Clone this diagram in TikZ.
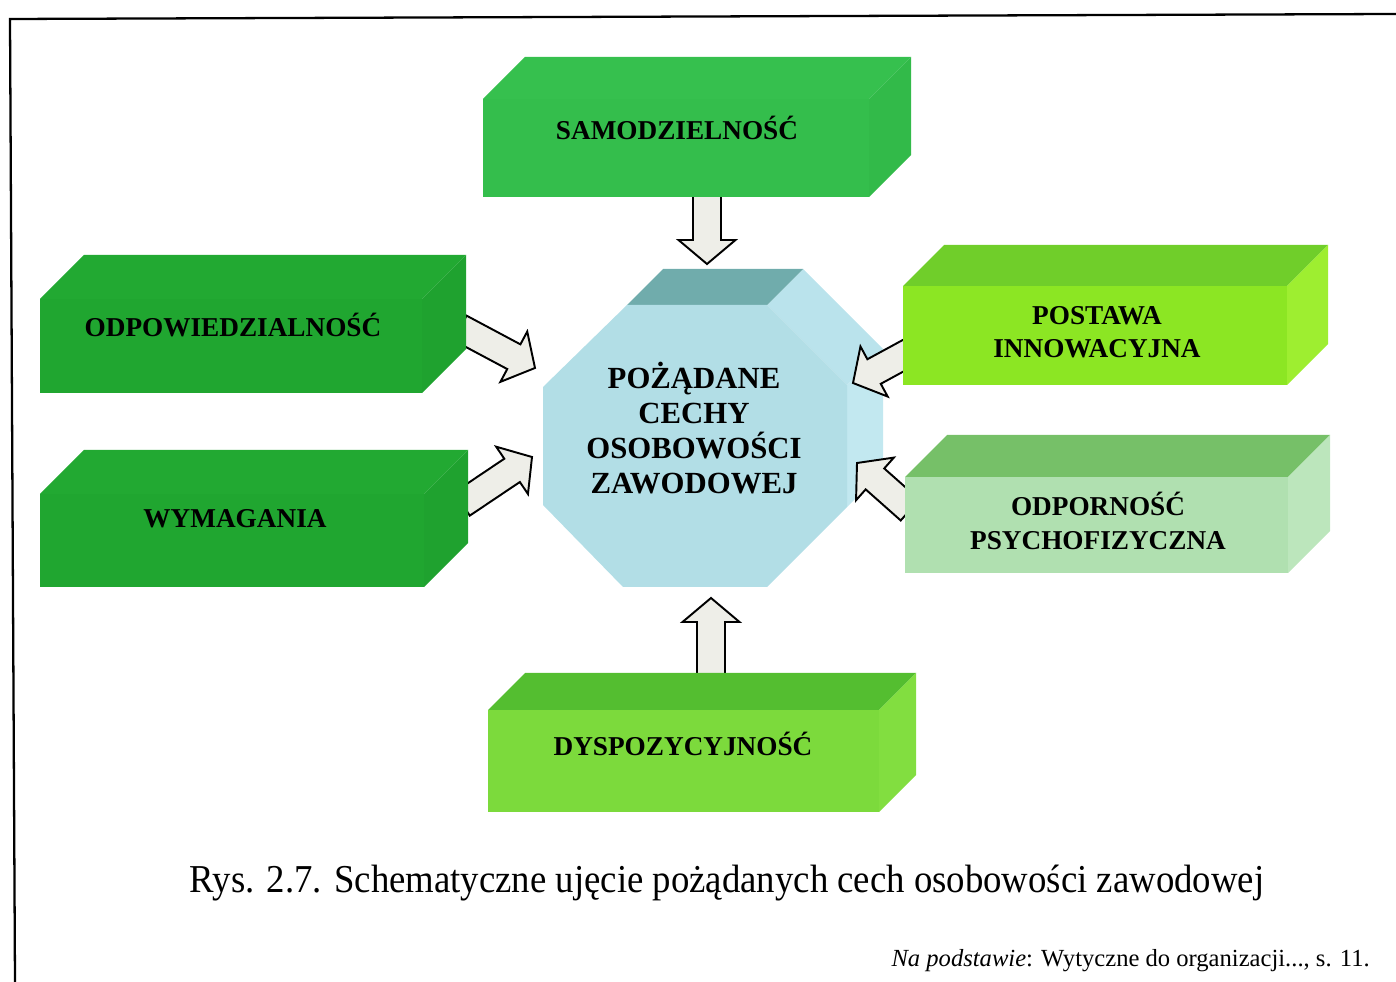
\documentclass[tikz,border=0pt]{standalone}
\usepackage{fontspec}
\setmainfont{Liberation Serif}
\usetikzlibrary{
  calc
}

\definecolor{samoP}{RGB}{52,190,76}
\definecolor{samoG}{RGB}{54,192,78}
\definecolor{samoB}{RGB}{50,186,73}
\definecolor{lewyP}{RGB}{32,166,48}
\definecolor{lewyG}{RGB}{34,169,50}
\definecolor{lewyB}{RGB}{31,162,47}
\definecolor{postP}{RGB}{140,230,35}
\definecolor{postG}{RGB}{112,206,42}
\definecolor{postB}{RGB}{158,238,48}
\definecolor{odpP}{RGB}{176,224,176}
\definecolor{odpG}{RGB}{118,192,104}
\definecolor{odpB}{RGB}{188,230,188}
\definecolor{dysP}{RGB}{124,218,60}
\definecolor{dysG}{RGB}{84,190,48}
\definecolor{dysB}{RGB}{130,222,64}
\definecolor{celP}{RGB}{178,222,230}
\definecolor{celG}{RGB}{112,172,172}
\definecolor{celB}{RGB}{194,232,240}
\definecolor{celS}{RGB}{186,227,236}
\definecolor{strzalka}{RGB}{238,238,232}

% prostopadloscian: x1 y1 x2 y2 glebokosc przod gora bok
\newcommand{\kostka}[8]{%
  \fill[#7] (#1,#2+#5) -- (#1+#5,#2) -- (#3,#2) -- (#3-#5,#2+#5) -- cycle;
  \fill[#8] (#3-#5,#2+#5) -- (#3,#2) -- (#3,#4-#5) -- (#3-#5,#4) -- cycle;
  \fill[#6] (#1,#2+#5) rectangle (#3-#5,#4);
}

\begin{document}
\begin{tikzpicture}[x=0.02cm,y=-0.02cm,
      etykieta/.style={
         font=\fontsize{15.5}{19}\selectfont\bfseries,
         align=center,
         inner sep=0pt
      },
      srodek/.style={
         font=\fontsize{17.5}{20}\selectfont\bfseries,
         align=center,
         inner sep=0pt
      },
      blok/.style={
         draw=black, line width=1.1pt, fill=strzalka, line join=miter,
         to path={
            ($(\tikztotarget)!0.48cm!(\tikztostart)$) coordinate (bh)
            ($(\tikztostart)!0.28cm!90:(\tikztotarget)$)
            -- ($(bh)!0.28cm!90:(\tikztotarget)$)
            -- ($(bh)!0.57cm!90:(\tikztotarget)$)
            -- (\tikztotarget)
            -- ($(bh)!0.57cm!-90:(\tikztotarget)$)
            -- ($(bh)!0.28cm!-90:(\tikztotarget)$)
            -- ($(\tikztostart)!0.28cm!-90:(\tikztotarget)$)
            -- cycle
         }
      }
    ]
    \useasboundingbox (0,0) rectangle (1396,982);
    \draw[line width=1.3pt] (1396,14) -- (10,19) -- (15,982);

    % bryla srodkowa
    \fill[celS] (767,305) -- (803,269) -- (883,349) -- (847,385) -- cycle;
    \fill[celB] (847,385) -- (883,349) -- (883,471) -- (847,507) -- cycle;
    \fill[celG] (627,305) -- (663,269) -- (803,269) -- (767,305) -- cycle;
    \fill[celP] (543,387) -- (627,305) -- (767,305) -- (847,385) -- (847,507)
       -- (767,587) -- (623,587) -- (543,505) -- cycle;
    \node (cel) [srodek] at (694,428) {POŻĄDANE\\CECHY\\OSOBOWOŚCI\\ZAWODOWEJ};

    \coordinate (samo-w) at (707,192);
    \coordinate (samo-k) at (707,264);
    \coordinate (dyspo-w) at (711,676);
    \coordinate (dyspo-k) at (711,598);
    \coordinate (odpow-w) at (460,328);
    \coordinate (odpow-k) at (535,368);
    \coordinate (wymag-w) at (462,504);
    \coordinate (wymag-k) at (532,457);
    \coordinate (postawa-w) at (910,352);
    \coordinate (postawa-k) at (853,383);
    \coordinate (odporn-w) at (910,510);
    \coordinate (odporn-k) at (857,463);

    \draw[blok] (samo-w) to (samo-k);
    \draw[blok] (dyspo-w) to (dyspo-k);
    \draw[blok] (odpow-w) to (odpow-k);
    \draw[blok] (wymag-w) to (wymag-k);
    \draw[blok] (postawa-w) to (postawa-k);
    \draw[blok] (odporn-w) to (odporn-k);

    \kostka{483}{57}{911}{197}{42}{samoP}{samoG}{samoB}
    \kostka{40}{255}{466}{393}{44}{lewyP}{lewyG}{lewyB}
    \kostka{40}{450}{468}{587}{44}{lewyP}{lewyG}{lewyB}
    \kostka{903}{245}{1328}{385}{41}{postP}{postG}{postB}
    \kostka{905}{435}{1330}{573}{42}{odpP}{odpG}{odpB}
    \kostka{488}{673}{916}{812}{37}{dysP}{dysG}{dysB}

    \node (samo) [etykieta] at (677,128) {SAMODZIELNOŚĆ};
    \node (odpow) [etykieta] at (233,325) {ODPOWIEDZIALNOŚĆ};
    \node (wymag) [etykieta] at (235,519) {WYMAGANIA};
    \node (postawa) [etykieta] at (1097,332) {POSTAWA\\INNOWACYJNA};
    \node (odporn) [etykieta] at (1098,521) {ODPORNOŚĆ\\PSYCHOFIZYCZNA};
    \node (dyspo) [etykieta] at (683,744) {DYSPOZYCYJNOŚĆ};

    \node (podpis) [font=\fontsize{22.5}{26}\selectfont, inner sep=0pt] at (727,883)
       {\scalebox{0.93}[1]{Rys. 2.7. Schematyczne ujęcie pożądanych cech osobowości zawodowej}};
    \node (zrodlo) [font=\fontsize{14}{16}\selectfont, anchor=base east, inner sep=0pt] at (1370,966)
       {\textit{Na podstawie}: Wytyczne do organizacji..., s. 11.};
\end{tikzpicture}
\end{document}
